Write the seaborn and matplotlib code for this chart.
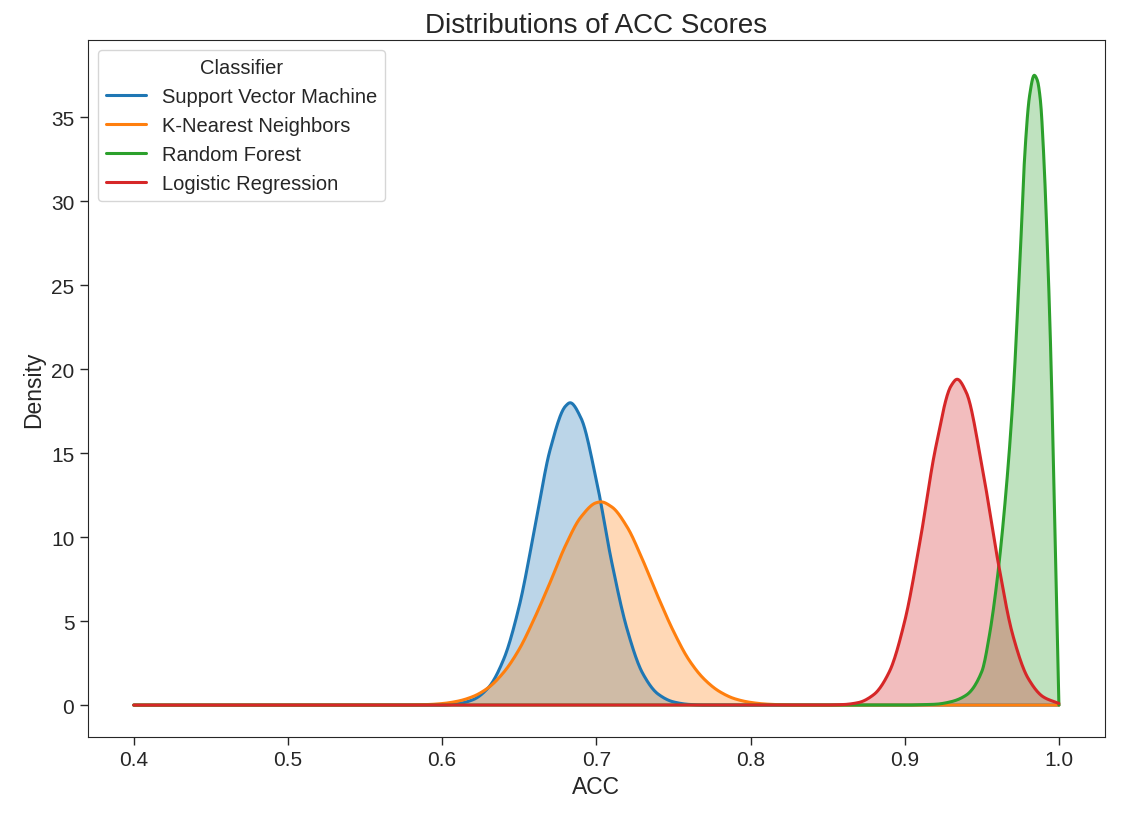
import numpy as np
import pandas as pd
import matplotlib
matplotlib.use("Agg")
import matplotlib.pyplot as plt
import seaborn as sns

classifiers = ["Support Vector Machine", "K-Nearest Neighbors", "Random Forest", "Logistic Regression"]

svm_x = [0.40, 0.60, 0.61, 0.62, 0.63, 0.64, 0.65, 0.66, 0.67, 0.68, 0.683, 0.69, 0.70, 0.71, 0.72, 0.73, 0.74, 0.75, 0.76, 0.77, 1.00]
svm_y = [0.0, 0.0, 0.08, 0.32, 1.04, 2.75, 5.9, 10.5, 15.2, 17.8, 18.0, 17.1, 13.4, 8.5, 4.5, 1.9, 0.66, 0.19, 0.04, 0.0, 0.0]

knn_x = [0.40, 0.57, 0.58, 0.59, 0.60, 0.61, 0.62, 0.63, 0.64, 0.65, 0.66, 0.67, 0.68, 0.69, 0.70, 0.703, 0.71, 0.72, 0.73, 0.74, 0.75, 0.76, 0.77, 0.78, 0.79, 0.80, 0.81, 0.82, 0.83, 1.00]
knn_y = [0.0, 0.0, 0.01, 0.03, 0.09, 0.23, 0.51, 1.04, 1.96, 3.33, 5.2, 7.3, 9.5, 11.2, 12.05, 12.1, 11.8, 10.6, 8.65, 6.45, 4.4, 2.7, 1.54, 0.80, 0.37, 0.16, 0.06, 0.02, 0.0, 0.0]

rf_x = [0.40, 0.90, 0.91, 0.92, 0.93, 0.94, 0.95, 0.955, 0.96, 0.965, 0.97, 0.975, 0.978, 0.981, 0.984, 0.986, 0.988, 0.99, 0.993, 0.995, 0.997, 0.998, 1.00]
rf_y = [0.0, 0.0, 0.02, 0.05, 0.2, 0.6, 2.0, 4.2, 7.5, 12.0, 18.0, 27.0, 33.0, 36.3, 37.5, 37.2, 36.0, 33.0, 26.0, 20.0, 12.0, 8.0, 0.0]

lr_x = [0.40, 0.84, 0.85, 0.86, 0.87, 0.88, 0.89, 0.90, 0.91, 0.92, 0.93, 0.934, 0.94, 0.95, 0.96, 0.97, 0.98, 0.99, 1.00]
lr_y = [0.0, 0.0, 0.005, 0.03, 0.15, 0.63, 1.98, 5.0, 9.8, 15.3, 19.0, 19.4, 18.6, 14.3, 8.8, 4.2, 1.6, 0.48, 0.1]

series = {
    "Support Vector Machine": (svm_x, svm_y),
    "K-Nearest Neighbors": (knn_x, knn_y),
    "Random Forest": (rf_x, rf_y),
    "Logistic Regression": (lr_x, lr_y),
}


def pchip(x, y, xn):
    """Monotone cubic drawing of the read-off points (smooth rendering only)."""
    x = np.asarray(x, float); y = np.asarray(y, float)
    h = np.diff(x); d = np.diff(y) / h
    m = np.zeros_like(y)
    for k in range(1, len(x) - 1):
        if d[k - 1] * d[k] > 0:
            w1 = 2 * h[k] + h[k - 1]; w2 = h[k] + 2 * h[k - 1]
            m[k] = (w1 + w2) / (w1 / d[k - 1] + w2 / d[k])
    m[0] = d[0]; m[-1] = d[-1]
    idx = np.clip(np.searchsorted(x, xn) - 1, 0, len(h) - 1)
    t = (xn - x[idx]) / h[idx]
    h00 = 2 * t**3 - 3 * t**2 + 1; h10 = t**3 - 2 * t**2 + t
    h01 = -2 * t**3 + 3 * t**2; h11 = t**3 - t**2
    return np.maximum(h00 * y[idx] + h10 * h[idx] * m[idx] + h01 * y[idx + 1] + h11 * h[idx] * m[idx + 1], 0)


grid = np.linspace(0.4, 1.0, 1201)
rows = []
smooth = {}
for name in classifiers:
    xs, ys = series[name]
    ys_s = pchip(xs, ys, grid)
    smooth[name] = ys_s
    rows.append(pd.DataFrame({"ACC": grid, "Density": ys_s, "Classifier": name}))
df = pd.concat(rows, ignore_index=True)

sns.set_style("ticks")
plt.rcParams['font.family'] = ['Arial', 'Liberation Sans', 'DejaVu Sans']
palette = sns.color_palette("tab10", 4)

fig, ax = plt.subplots(figsize=(11.22, 8.2), dpi=100)
sns.lineplot(data=df, x="ACC", y="Density", hue="Classifier", hue_order=classifiers,
             palette=palette, linewidth=2.2, ax=ax, sort=False)
for name, c in zip(classifiers, palette):
    ax.fill_between(grid, smooth[name], color=c, alpha=0.3, linewidth=0)

ax.set_title("Distributions of ACC Scores", fontsize=20)
ax.set_xlabel("ACC", fontsize=16.5)
ax.set_ylabel("Density", fontsize=16.5)
ax.tick_params(labelsize=15, length=6, width=1, direction='out')
ax.set_xticks([0.4, 0.5, 0.6, 0.7, 0.8, 0.9, 1.0])
ax.set_yticks([0, 5, 10, 15, 20, 25, 30, 35])
ax.set_xlim(0.37, 1.03)
ax.set_ylim(-1.9, 39.6)
leg = ax.legend(title="Classifier", loc="upper left", fontsize=14.5, title_fontsize=14.5)
fig.subplots_adjust(left=0.078, right=0.985, top=0.95, bottom=0.1)
fig.savefig("out.png", dpi=100)
